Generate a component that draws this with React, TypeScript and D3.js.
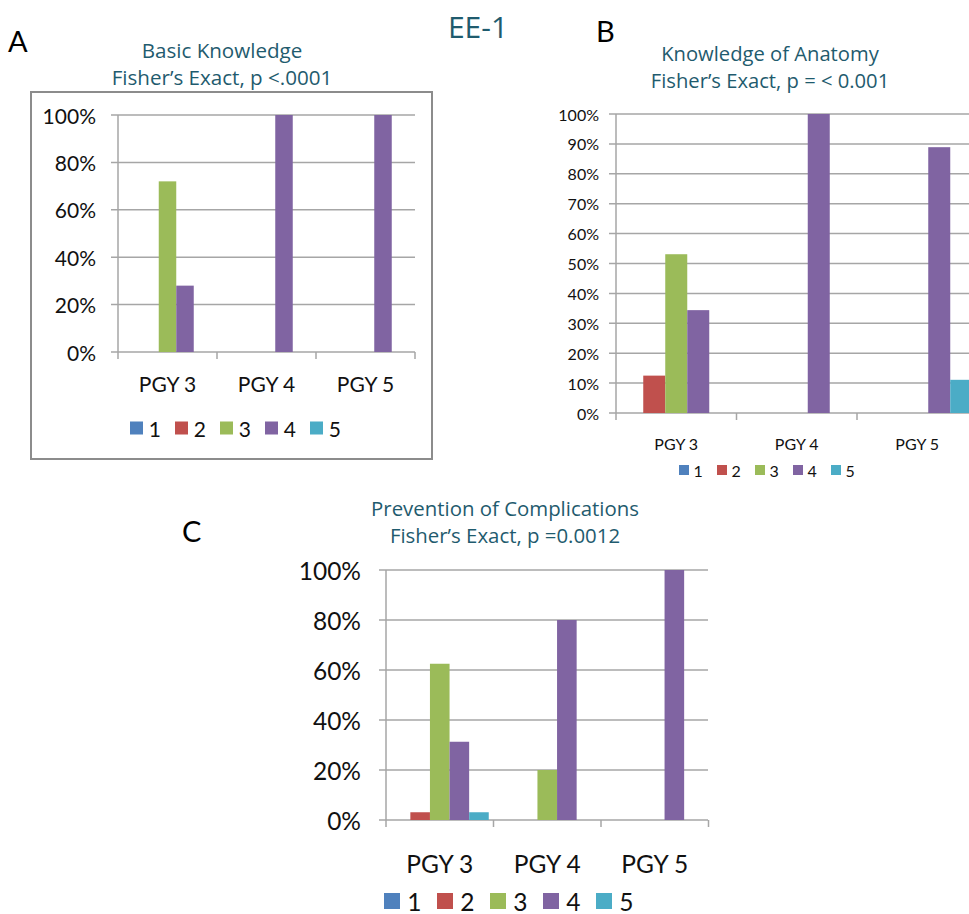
import React from "react";
import * as d3 from "d3";

const categories = ["PGY 3", "PGY 4", "PGY 5"];
const seriesNames = ["1", "2", "3", "4", "5"];
const seriesColors = ["#4F81BD", "#C0504D", "#9BBB59", "#8064A2", "#4BACC6"];

// values per series (1..5), per category (PGY 3, PGY 4, PGY 5), in %
const basicKnowledge = [
  [0, 0, 0],
  [0, 0, 0],
  [72, 0, 0],
  [28, 100, 100],
  [0, 0, 0],
];
const anatomyKnowledge = [
  [0, 0, 0],
  [12.5, 0, 0],
  [53.1, 0, 0],
  [34.4, 100, 88.9],
  [0, 0, 11.1],
];
const complications = [
  [0, 0, 0],
  [3.1, 0, 0],
  [62.5, 20, 0],
  [31.3, 80, 100],
  [3.1, 0, 0],
];
const ticksA = [0, 20, 40, 60, 80, 100];
const ticksB = [0, 10, 20, 30, 40, 50, 60, 70, 80, 90, 100];
const ticksC = [0, 20, 40, 60, 80, 100];

const axisFont = "Lato, 'Open Sans', sans-serif";
const titleFont = "'Open Sans', 'Noto Sans', sans-serif";
const titleColor = "#1F5B6E";

type PanelProps = {
  data: number[][];
  ticks: number[];
  x0: number;
  catW: number;
  yTop: number;
  yBottom: number;
  barW: number;
  fontSize: number;
  tickOffset: number;
  catLabelY: number;
  legendX: number;
  legendY: number;
  legendStep: number;
  legendSq: number;
  gridRight: number;
};

function Panel(p: PanelProps) {
  const x = d3
    .scaleBand<string>()
    .domain(categories)
    .range([p.x0, p.x0 + p.catW * categories.length])
    .paddingInner(0)
    .paddingOuter(0);
  const pad = (p.catW / p.barW - seriesNames.length) / 2;
  const xs = d3
    .scaleBand<string>()
    .domain(seriesNames)
    .range([0, x.bandwidth()])
    .paddingInner(0)
    .paddingOuter(pad);
  const y = d3.scaleLinear().domain([0, 100]).range([p.yBottom, p.yTop]);
  const gridColor = "#A6A6A6";
  return (
    <g>
      {p.ticks.map((t) => (
        <g key={t}>
          <line
            x1={p.x0 - 7}
            x2={p.gridRight}
            y1={y(t)}
            y2={y(t)}
            stroke={gridColor}
            strokeWidth={1.5}
          />
          <text
            x={p.x0 - p.tickOffset}
            y={y(t)}
            textAnchor="end"
            dominantBaseline="central"
            fontFamily={axisFont}
            fontSize={p.fontSize}
            fill="#111"
          >
            {t}%
          </text>
        </g>
      ))}
      <line x1={p.x0} x2={p.x0} y1={p.yTop} y2={p.yBottom + 7} stroke={gridColor} strokeWidth={1.5} />
      {categories.map((c) => (
        <line
          key={"t" + c}
          x1={(x(c) as number) + x.bandwidth()}
          x2={(x(c) as number) + x.bandwidth()}
          y1={p.yBottom}
          y2={p.yBottom + 7}
          stroke={gridColor}
          strokeWidth={1.5}
        />
      ))}
      {seriesNames.map((s, si) =>
        categories.map((c, ci) => {
          const v = p.data[si][ci];
          if (v <= 0) return null;
          return (
            <rect
              key={s + c}
              x={(x(c) as number) + (xs(s) as number)}
              width={xs.bandwidth()}
              y={y(v)}
              height={y(0) - y(v)}
              fill={seriesColors[si]}
            />
          );
        })
      )}
      {categories.map((c) => (
        <text
          key={"l" + c}
          x={(x(c) as number) + x.bandwidth() / 2}
          y={p.catLabelY}
          textAnchor="middle"
          dominantBaseline="central"
          fontFamily={axisFont}
          fontSize={p.fontSize}
          fill="#111"
        >
          {c}
        </text>
      ))}
      {seriesNames.map((s, si) => (
        <g key={"lg" + s} transform={`translate(${p.legendX + si * p.legendStep},${p.legendY})`}>
          <rect x={0} y={-p.legendSq / 2} width={p.legendSq} height={p.legendSq} fill={seriesColors[si]} />
          <text
            x={p.legendSq + p.legendSq * 0.45}
            y={0}
            dominantBaseline="central"
            fontFamily={axisFont}
            fontSize={p.fontSize}
            fill="#111"
          >
            {s}
          </text>
        </g>
      ))}
    </g>
  );
}

function Title({ x, y, lines, size, gap }: { x: number; y: number; lines: string[]; size: number; gap: number }) {
  return (
    <g>
      {lines.map((l, i) => (
        <text
          key={i}
          x={x}
          y={y + i * gap}
          textAnchor="middle"
          dominantBaseline="central"
          fontFamily={titleFont}
          fontSize={size}
          fill={titleColor}
        >
          {l}
        </text>
      ))}
    </g>
  );
}

export default function App() {
  return (
    <div style={{ position: "absolute", left: 0, top: 0 }}>
      <svg width={969} height={914} style={{ display: "block", background: "#fff" }}>
        <text x={478} y={26} textAnchor="middle" dominantBaseline="central" fontFamily={titleFont} fontSize={30} fill={titleColor}>
          EE-1
        </text>
        <text x={8} y={40} dominantBaseline="central" fontFamily={axisFont} fontSize={29} fill="#000">A</text>
        <text x={596} y={30} dominantBaseline="central" fontFamily={axisFont} fontSize={29} fill="#000">B</text>
        <text x={182} y={530} dominantBaseline="central" fontFamily={axisFont} fontSize={29} fill="#000">C</text>

        <rect x={31} y={92} width={401} height={367} fill="none" stroke="#8C8C8C" strokeWidth={2} />
        <Title x={222} y={50} lines={["Basic Knowledge", "Fisher\u2019s Exact, p <.0001"]} size={20.6} gap={27} />
        <Panel
          data={basicKnowledge}
          ticks={ticksA}
          x0={118}
          catW={99}
          yTop={115}
          yBottom={352}
          barW={17.5}
          fontSize={21}
          tickOffset={22}
          catLabelY={383}
          legendX={130}
          legendY={428}
          legendStep={45}
          legendSq={13}
          gridRight={415}
        />

        <Title x={770} y={53} lines={["Knowledge of Anatomy", "Fisher\u2019s Exact, p = < 0.001"]} size={20.2} gap={27} />
        <Panel
          data={anatomyKnowledge}
          ticks={ticksB}
          x0={616}
          catW={120.5}
          yTop={114}
          yBottom={413}
          barW={22}
          fontSize={16}
          tickOffset={17}
          catLabelY={443}
          legendX={679}
          legendY={470}
          legendStep={38}
          legendSq={10}
          gridRight={990}
        />

        <Title x={505} y={508} lines={["Prevention of Complications", "Fisher\u2019s Exact, p =0.0012"]} size={20.4} gap={27} />
        <Panel
          data={complications}
          ticks={ticksC}
          x0={386}
          catW={107.5}
          yTop={570}
          yBottom={820}
          barW={19.6}
          fontSize={24.5}
          tickOffset={25}
          catLabelY={863}
          legendX={384}
          legendY={901}
          legendStep={53}
          legendSq={16}
          gridRight={708}
        />
      </svg>
    </div>
  );
}
